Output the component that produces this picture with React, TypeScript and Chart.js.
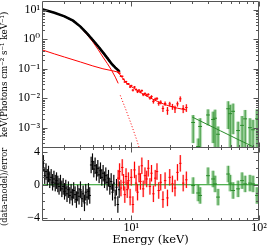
import React, { useEffect, useRef } from 'react';
import { Chart, registerables } from 'chart.js';

Chart.register(...registerables);

// ---------- data ----------
const blackE = [2.00, 2.05, 2.10, 2.15, 2.20, 2.25, 2.30, 2.36, 2.42, 2.48, 2.54, 2.60, 2.66, 2.72, 2.79, 2.86, 2.93, 3.00, 3.07, 3.14, 3.22, 3.30, 3.38, 3.46, 3.54, 3.63, 3.72, 3.81, 3.90, 4.00, 4.10, 4.20, 4.30, 4.40, 4.51, 4.62, 4.73, 4.85, 4.97, 5.09, 5.21, 5.34, 5.47, 5.60, 5.74, 5.88, 6.02, 6.17, 6.32, 6.47, 6.63, 6.79, 6.96, 7.13, 7.30, 7.48, 7.66, 7.85, 8.04];
const blackF = [10.5, 10.2, 9.9, 9.6, 9.35, 9.1, 8.85, 8.6, 8.3, 8.1, 7.8, 7.5, 7.25, 7.0, 6.7, 6.5, 6.2, 6.0, 5.7, 5.45, 5.15, 4.85, 4.6, 4.4, 4.15, 3.8, 3.45, 3.2, 2.95, 2.7, 2.4, 2.18, 1.96, 1.77, 1.58, 1.40, 1.25, 1.10, 0.98, 0.86, 0.76, 0.67, 0.59, 0.52, 0.457, 0.40, 0.35, 0.31, 0.27, 0.236, 0.204, 0.179, 0.154, 0.138, 0.124, 0.111, 0.101, 0.091, 0.083];
const blackErrFrac = [0.012, 0.012, 0.012, 0.012, 0.012, 0.012, 0.012, 0.012, 0.012, 0.012, 0.012, 0.012, 0.012, 0.012, 0.015, 0.015, 0.015, 0.015, 0.015, 0.015, 0.015, 0.015, 0.015, 0.015, 0.015, 0.015, 0.015, 0.015, 0.02, 0.02, 0.02, 0.02, 0.02, 0.02, 0.02, 0.02, 0.02, 0.02, 0.03, 0.03, 0.03, 0.03, 0.03, 0.03, 0.03, 0.03, 0.045, 0.045, 0.045, 0.045, 0.045, 0.045, 0.045, 0.07, 0.07, 0.07, 0.07, 0.07, 0.07];
const blackRes = [1.4, 2.6, 1.1, 1.6, 0.9, 1.3, 0.6, 0.9, 0.3, 0.7, 0.2, 0.5, 0.1, -0.2, 0.2, -0.5, -0.2, -0.8, -0.4, -1.1, -0.6, -1.3, -0.9, -1.5, -0.7, -1.2, -1.8, -1.0, -1.4, -0.6, -1.7, -1.1, -2.2, -0.9, -1.5, -0.8, -1.3, 2.4, 2.8, 1.9, 2.3, 1.5, 2.0, 1.2, 1.7, 0.9, 1.4, 0.6, 1.1, 0.3, 0.8, -0.2, 0.4, -0.9, 0.2, -1.6, -0.3, -2.4, -0.6];

const redE = [7.9, 8.1, 8.3, 8.5, 8.7, 8.9, 9.1, 9.3, 9.5, 9.8, 10.0, 10.3, 10.6, 10.9, 11.2, 11.5, 11.8, 12.1, 12.4, 12.8, 13.2, 13.6, 14.0, 14.4, 14.9, 15.4, 15.9, 16.4, 17.0, 17.7, 18.4, 19.2, 20.0, 21.0, 22.0, 23.0, 24.2, 25.5, 27.0];
const redF = [0.0776, 0.0709, 0.0556, 0.0557, 0.0440, 0.0356, 0.0368, 0.0309, 0.0308, 0.0241, 0.0267, 0.0188, 0.0241, 0.0198, 0.0166, 0.0188, 0.0163, 0.0181, 0.0132, 0.0144, 0.0128, 0.0135, 0.0102, 0.0114, 0.0078, 0.0093, 0.0097, 0.0067, 0.00734, 0.0045, 0.00663, 0.0039, 0.00642, 0.00523, 0.00436, 0.00646, 0.00955, 0.00447, 0.00484];
const redErr = [0.0037, 0.0033, 0.0031, 0.0027, 0.0026, 0.0023, 0.0022, 0.0021, 0.0021, 0.0019, 0.0019, 0.0017, 0.0017, 0.0017, 0.0016, 0.0015, 0.0015, 0.0015, 0.0014, 0.00135, 0.0013, 0.0012, 0.0012, 0.0012, 0.0012, 0.0011, 0.0011, 0.0011, 0.0011, 0.0011, 0.0011, 0.00115, 0.00113, 0.00118, 0.00121, 0.00124, 0.00198, 0.00134, 0.0014];
const redRes = [0.8, 1.6, -0.4, 2.1, 0.3, -1.2, 1.0, -0.6, 0.5, -1.5, 0.9, -2.4, 1.8, 0.2, -0.9, 1.3, 0.4, 2.3, -0.5, 1.1, 0.7, 2.0, -0.2, 1.4, -1.1, 0.8, 1.6, -0.7, 0.3, -1.8, 0.5, -1.6, 0.9, 0.1, -0.4, 1.5, 2.6, 0.2, 0.6];

const greenE = [30.5, 33.4, 34.6, 39.9, 43.7, 45.3, 47.8, 57.4, 59.5, 62.7, 68.6, 73.7, 77.9, 85.0, 89.8, 96.5];
const greenF = [1.5e-3, 2.3e-4, 1.1e-3, 2.7e-3, 1.9e-3, 2.1e-3, 6.0e-4, 4.4e-3, 3.0e-3, 3.6e-3, 8.0e-4, 1.2e-3, 2.0e-3, 1.0e-3, 8.5e-4, 2.0e-3];
const greenErr = [1.2e-3, 2.0e-4, 1.0e-3, 1.5e-3, 1.6e-3, 2.0e-3, 5.0e-4, 3.5e-3, 3.0e-3, 3.0e-3, 8.0e-4, 1.3e-3, 2.0e-3, 1.1e-3, 1.0e-3, 2.2e-3];
const greenRes = [-0.1, -1.0, -1.3, 1.1, 0.7, 0.1, -1.5, 1.3, 0.2, -0.7, -0.5, 0.5, 0.1, 0.2, 0.1, -1.3];

// model curves
const blackModelE = [2, 2.5, 3, 3.5, 4, 4.5, 5, 5.5, 6, 6.5, 7, 7.5, 8.04];
const blackModelF = [10.5, 8.0, 6.0, 4.3, 2.7, 1.6, 0.95, 0.58, 0.36, 0.23, 0.15, 0.11, 0.083];
const compE = [2, 2.5, 3, 4, 5, 6, 7, 8];
const compF = [0.44, 0.32, 0.25, 0.17, 0.125, 0.10, 0.087, 0.076];
const diskE = [4, 4.5, 5, 5.5, 6, 6.5, 7, 7.5, 7.9];
const diskF = [2.55, 1.45, 0.82, 0.45, 0.25, 0.15, 0.09, 0.052, 0.032];
const diskTailE = [8.2, 9, 10, 11, 12];
const diskTailF = [0.0125, 0.0045, 0.0013, 0.0004, 0.00012];
const redModelE = [7.9, 8, 9, 10, 11, 12, 14, 16, 18, 20, 23, 27];
const redModelF = [0.0746, 0.070, 0.036, 0.025, 0.019, 0.015, 0.0104, 0.0078, 0.0063, 0.0054, 0.0046, 0.0040];
const greenModelE = [30, 40, 50, 60, 70, 80, 100];
const greenModelF = [2.3e-3, 1.25e-3, 7.8e-4, 5.3e-4, 3.8e-4, 2.9e-4, 1.8e-4];
const zeroE = [2, 100];
const zeroR = [0, 0];

// axes
const xMin = 2, xMax = 100;
const yMin = 2.1e-4, yMax = 20;
const rMin = -4.4, rMax = 4.5;
const xTickValues = [10, 100];
const xTickLabels = ['10¹', '10²'];
const yTickValues = [1e-3, 1e-2, 1e-1, 1, 10];
const yTickLabels = ['10⁻³', '10⁻²', '10⁻¹', '10⁰', '10¹'];
const rTickValues = [-4, 0, 4];
const rTickLabels = ['−4', '0', '4'];

// ---------- styles ----------
const SERIF = "'DejaVu Serif', serif";
const TICKFONT = "'Liberation Serif', 'DejaVu Serif', serif";
const FRAME = '#555';
const BLACK = '#000000', BLACK_FILL = 'rgba(0,0,0,0.3)';
const RED = '#ff0000', RED_FILL = 'rgba(255,40,40,0.3)';
const GREEN = '#2a8c2a', GREEN_FILL = 'rgba(40,160,40,0.32)';

function pts(E: number[], F: number[]) {
  return E.map((e, i) => ({ x: e, y: F[i] }));
}

function errSet(E: number[], F: number[], lo: number[], hi: number[], axis: string, color: string, fill: string, binFrac: number) {
  return {
    type: 'scatter',
    yAxisID: axis,
    data: pts(E, F),
    showLine: false,
    pointRadius: 0,
    bars: E.map((e, i) => ({ xl: e * (1 - binFrac), xh: e * (1 + binFrac), yl: lo[i], yh: hi[i] })),
    barColor: color,
    barFill: fill,
  };
}

function lineSet(E: number[], F: number[], color: string, width: number, axis = 'y', dash: number[] = []) {
  return {
    type: 'scatter',
    yAxisID: axis,
    data: pts(E, F),
    showLine: true,
    borderColor: color,
    backgroundColor: color,
    borderWidth: width,
    borderDash: dash,
    pointRadius: 0,
    tension: 0,
  };
}

function drawBars(chart: any, mode: 'box' | 'cross') {
  const ctx = chart.ctx;
  const xs = chart.scales.x;
  for (const ds of chart.data.datasets as any[]) {
    if (!ds.bars) continue;
    const ys = chart.scales[ds.yAxisID];
    ctx.save();
    ctx.beginPath();
    ctx.rect(xs.left, ys.top, xs.right - xs.left, ys.bottom - ys.top);
    ctx.clip();
    ds.bars.forEach((b: any, i: number) => {
      const p = ds.data[i];
      const px = xs.getPixelForValue(p.x);
      const py = ys.getPixelForValue(p.y);
      let x1 = xs.getPixelForValue(b.xl);
      let x2 = xs.getPixelForValue(b.xh);
      const lowV = ys.type === 'logarithmic' ? Math.max(b.yl, ys.min / 10) : b.yl;
      const y1 = ys.getPixelForValue(lowV);
      const y2 = ys.getPixelForValue(b.yh);
      if (mode === 'box') {
        ctx.fillStyle = ds.barFill;
        const w = Math.max(x2 - x1, 1.4);
        ctx.fillRect(px - w / 2, y2, w, y1 - y2);
      } else {
        if (x2 - x1 < 2.4) { x1 = px - 1.2; x2 = px + 1.2; }
        ctx.strokeStyle = ds.barColor;
        ctx.lineWidth = 1;
        ctx.beginPath();
        ctx.moveTo(x1, py);
        ctx.lineTo(x2, py);
        ctx.moveTo(px, y2);
        ctx.lineTo(px, y1);
        ctx.stroke();
      }
    });
    ctx.restore();
  }
}

function drawFrame(chart: any) {
  const ctx = chart.ctx;
  const xs = chart.scales.x, yt = chart.scales.y, yb = chart.scales.y2;
  const L = Math.round(xs.left) + 0.5;
  const R = Math.round(xs.right) - 0.5;
  const T = Math.round(yt.top) + 0.5;
  const M = Math.round(yt.bottom) - 0.5;
  const B = Math.round(yb.bottom) - 0.5;
  ctx.save();
  ctx.strokeStyle = FRAME;
  ctx.lineWidth = 1;
  ctx.beginPath();
  ctx.moveTo(L, T); ctx.lineTo(R, T); ctx.lineTo(R, B); ctx.lineTo(L, B); ctx.closePath();
  ctx.moveTo(L, M); ctx.lineTo(R, M);
  // x ticks
  const xMaj = [10, 100];
  const xMinor: number[] = [];
  for (const d of [1, 10]) for (let m = 2; m <= 9; m++) { const v = m * d; if (v > xMin && v < xMax) xMinor.push(v); }
  const xT = (v: number, len: number) => {
    const px = Math.round(xs.getPixelForValue(v)) + 0.5;
    ctx.moveTo(px, T); ctx.lineTo(px, T + len);
    ctx.moveTo(px, M); ctx.lineTo(px, M - len);
    ctx.moveTo(px, M); ctx.lineTo(px, M + len);
    ctx.moveTo(px, B); ctx.lineTo(px, B - len);
  };
  xMaj.forEach((v) => xT(v, 5));
  xMinor.forEach((v) => xT(v, 2.5));
  // y ticks
  const yT = (sc: any, v: number, len: number) => {
    const py = Math.round(sc.getPixelForValue(v)) + 0.5;
    ctx.moveTo(L, py); ctx.lineTo(L + len, py);
    ctx.moveTo(R, py); ctx.lineTo(R - len, py);
  };
  for (let k = -4; k <= 1; k++) {
    const d = Math.pow(10, k);
    if (d > yMin && d < yMax) yT(yt, d, 5);
    for (let m = 2; m <= 9; m++) { const v = m * d; if (v > yMin && v < yMax) yT(yt, v, 2.5); }
  }
  [-4, 0, 4].forEach((v) => yT(yb, v, 5));
  [-3, -2, -1, 1, 2, 3].forEach((v) => yT(yb, v, 2.5));
  ctx.stroke();
  ctx.restore();
}

const errPlugin = {
  id: 'xspecBars',
  beforeDatasetsDraw(chart: any) { drawBars(chart, 'box'); },
  afterDatasetsDraw(chart: any) { drawBars(chart, 'cross'); drawFrame(chart); },
};

function buildConfig(): any {
  const ones = (a: number[], s: number) => a.map((r) => r + s);
  const datasets = [
    errSet(blackE, blackF, blackF.map((f, i) => f * (1 - blackErrFrac[i])), blackF.map((f, i) => f * (1 + blackErrFrac[i])), 'y', BLACK, BLACK_FILL, 0.011),
    errSet(redE, redF, redF.map((f, i) => f - redErr[i]), redF.map((f, i) => f + redErr[i]), 'y', RED, RED_FILL, 0.018),
    errSet(greenE, greenF, greenF.map((f, i) => f - greenErr[i]), greenF.map((f, i) => f + greenErr[i]), 'y', GREEN, GREEN_FILL, 0.035),
    errSet(blackE, blackRes, ones(blackRes, -1), ones(blackRes, 1), 'y2', BLACK, BLACK_FILL, 0.011),
    errSet(redE, redRes, ones(redRes, -1), ones(redRes, 1), 'y2', RED, RED_FILL, 0.018),
    errSet(greenE, greenRes, ones(greenRes, -1), ones(greenRes, 1), 'y2', GREEN, GREEN_FILL, 0.035),
    lineSet(blackModelE, blackModelF, BLACK, 2.5),
    lineSet(compE, compF, RED, 1),
    lineSet(diskE, diskF, RED, 1),
    lineSet(diskTailE, diskTailF, RED, 1, 'y', [1, 2]),
    lineSet(redModelE, redModelF, RED, 1),
    lineSet(greenModelE, greenModelF, GREEN, 1),
    lineSet(zeroE, zeroR, '#1f9a1f', 1, 'y2'),
  ];
  const tickFont = { family: TICKFONT, size: 12 };
  return {
    type: 'scatter',
    data: { datasets },
    options: {
      animation: false,
      responsive: false,
      events: [],
      layout: { padding: { left: 0, right: 12, top: 1, bottom: 0 } },
      plugins: { legend: { display: false }, tooltip: { enabled: false }, title: { display: false } },
      scales: {
        x: {
          type: 'logarithmic', position: 'bottom', min: xMin, max: xMax,
          afterBuildTicks: (s: any) => { s.ticks = xTickValues.map((v) => ({ value: v })); },
          afterFit: (s: any) => { s.height = 27; s.paddingLeft = 0; s.paddingRight = 0; },
          grid: { display: false, drawTicks: false }, border: { display: false },
          ticks: { autoSkip: false, maxRotation: 0, padding: 0, color: '#000', font: tickFont,
            callback: (v: number) => { const i = xTickValues.indexOf(v); return i >= 0 ? xTickLabels[i] : ''; } },
          title: { display: true, text: 'Energy (keV)', color: '#000', font: { family: SERIF, size: 11.5 }, padding: { top: 0, bottom: 1 } },
        },
        y: {
          type: 'logarithmic', position: 'left', stack: 'panels', stackWeight: 2, weight: 1, min: yMin, max: yMax,
          afterBuildTicks: (s: any) => { s.ticks = yTickValues.map((v) => ({ value: v })); },
          afterFit: (s: any) => { s.width = 42; s.paddingTop = 0; s.paddingBottom = 0; },
          grid: { display: false, drawTicks: false }, border: { display: false },
          ticks: { autoSkip: false, padding: 2, color: '#000', font: tickFont,
            callback: (v: number) => { const i = yTickValues.indexOf(v); return i >= 0 ? yTickLabels[i] : ''; } },
          title: { display: true, text: 'keV(Photons cm⁻² s⁻¹ keV⁻¹)', color: '#000', font: { family: SERIF, size: 8.7 }, padding: { top: 0, bottom: 0 } },
        },
        y2: {
          type: 'linear', position: 'left', stack: 'panels', stackWeight: 1, weight: 0, min: rMin, max: rMax,
          afterBuildTicks: (s: any) => { s.ticks = rTickValues.map((v) => ({ value: v })); },
          afterFit: (s: any) => { s.width = 42; s.paddingTop = 0; s.paddingBottom = 0; },
          grid: { display: false, drawTicks: false }, border: { display: false },
          ticks: { autoSkip: false, padding: 2, color: '#000', font: tickFont,
            callback: (v: number) => { const i = rTickValues.indexOf(v); return i >= 0 ? rTickLabels[i] : ''; } },
          title: { display: true, text: '(data-model)/error  ', color: '#000', font: { family: SERIF, size: 8.3 }, padding: { top: 0, bottom: 0 } },
        },
      },
    },
    plugins: [errPlugin],
  };
}

export default function App() {
  const ref = useRef<HTMLCanvasElement>(null);
  useEffect(() => {
    document.body.style.margin = '0';
    const chart = new Chart(ref.current as HTMLCanvasElement, buildConfig());
    return () => chart.destroy();
  }, []);
  return (
    <div style={{ position: 'absolute', left: 0, top: 0, width: 271, height: 248, background: '#fff' }}>
      <canvas ref={ref} width={271} height={248} style={{ display: 'block', width: 271, height: 248 }} />
    </div>
  );
}
